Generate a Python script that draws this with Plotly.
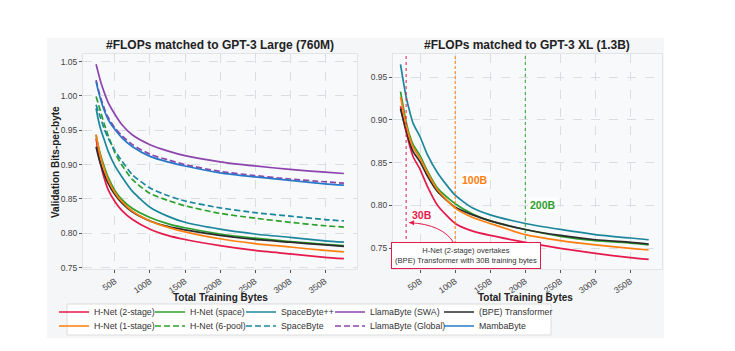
import plotly.graph_objects as go

W, H = 735, 351

# ---------------- data ----------------
x_left = [23, 26, 30, 35, 40, 50, 60, 75, 100, 125, 150, 200, 250, 300, 350, 377]
L_hnet_2stage = [0.938, 0.918, 0.898, 0.879, 0.864, 0.846, 0.833, 0.820, 0.806, 0.797, 0.791, 0.782, 0.775, 0.770, 0.765, 0.763]
L_hnet_1stage = [0.944, 0.927, 0.909, 0.892, 0.878, 0.859, 0.846, 0.832, 0.818, 0.809, 0.802, 0.792, 0.785, 0.780, 0.775, 0.773]
L_hnet_space = [0.943, 0.928, 0.912, 0.896, 0.882, 0.862, 0.849, 0.836, 0.823, 0.814, 0.808, 0.799, 0.793, 0.788, 0.784, 0.782]
L_hnet_6pool = [0.999, 0.989, 0.975, 0.958, 0.943, 0.917, 0.899, 0.878, 0.858, 0.848, 0.840, 0.829, 0.822, 0.816, 0.811, 0.809]
L_spacebytepp = [0.982, 0.966, 0.950, 0.935, 0.920, 0.898, 0.882, 0.861, 0.838, 0.825, 0.816, 0.806, 0.799, 0.794, 0.789, 0.787]
L_spacebyte = [0.987, 0.978, 0.966, 0.951, 0.939, 0.920, 0.905, 0.885, 0.866, 0.855, 0.847, 0.837, 0.830, 0.825, 0.820, 0.818]
L_llama_swa = [1.046, 1.034, 1.019, 1.004, 0.991, 0.973, 0.958, 0.943, 0.929, 0.920, 0.913, 0.904, 0.898, 0.893, 0.889, 0.887]
L_llama_global = [1.023, 1.010, 0.996, 0.981, 0.969, 0.953, 0.942, 0.929, 0.915, 0.907, 0.900, 0.890, 0.884, 0.879, 0.875, 0.873]
L_bpe = [0.926, 0.913, 0.899, 0.885, 0.873, 0.856, 0.844, 0.831, 0.818, 0.810, 0.805, 0.797, 0.791, 0.787, 0.783, 0.781]
L_mambabyte = [1.021, 1.008, 0.993, 0.978, 0.966, 0.951, 0.939, 0.926, 0.912, 0.904, 0.898, 0.888, 0.882, 0.877, 0.872, 0.870]

x_right = [22, 26, 30, 35, 40, 50, 60, 75, 100, 125, 150, 200, 250, 300, 350, 376]
R_hnet_2stage = [0.916, 0.900, 0.886, 0.870, 0.857, 0.842, 0.823, 0.800, 0.779, 0.770, 0.765, 0.757, 0.750, 0.744, 0.739, 0.737]
R_hnet_1stage = [0.927, 0.910, 0.894, 0.879, 0.868, 0.855, 0.839, 0.818, 0.797, 0.786, 0.779, 0.766, 0.759, 0.754, 0.750, 0.748]
R_hnet_space = [0.933, 0.915, 0.898, 0.882, 0.871, 0.858, 0.841, 0.820, 0.802, 0.790, 0.782, 0.772, 0.764, 0.759, 0.756, 0.754]
R_spacebytepp = [0.965, 0.945, 0.927, 0.910, 0.896, 0.880, 0.860, 0.838, 0.812, 0.797, 0.789, 0.779, 0.772, 0.766, 0.762, 0.760]
R_bpe = [0.913, 0.900, 0.888, 0.874, 0.863, 0.851, 0.835, 0.816, 0.798, 0.789, 0.782, 0.772, 0.765, 0.760, 0.757, 0.755]

x_tick_vals = [50, 100, 150, 200, 250, 300, 350]
x_tick_text = ["50B", "100B", "150B", "200B", "250B", "300B", "350B"]
y_left_ticks = [0.75, 0.80, 0.85, 0.90, 0.95, 1.00, 1.05]
y_right_ticks = [0.75, 0.80, 0.85, 0.90, 0.95]

marker_lines = [30, 100, 200]
marker_labels = ["30B", "100B", "200B"]

# ---------------- styles ----------------
RED = "#e6194b"
ORANGE = "#ff7f0e"
GREEN = "#2ca02c"
TEAL = "#1b879c"
PURPLE = "#8e44ad"
BLACK = "#2b2b2b"
BLUE = "#2878c8"
DASH = "6px,3px"
FONT = "Liberation Sans, Arial, sans-serif"

# name, left data, right data, color, dash, legend id, legend width
series = [
    ("H-Net (2-stage)", L_hnet_2stage, R_hnet_2stage, RED, "solid", "legend", 51),
    ("H-Net (space)", L_hnet_space, R_hnet_space, GREEN, "solid", "legend", 46),
    ("SpaceByte++", L_spacebytepp, R_spacebytepp, TEAL, "solid", "legend", 44),
    ("LlamaByte (SWA)", L_llama_swa, None, PURPLE, "solid", "legend", 64),
    ("(BPE) Transformer", L_bpe, R_bpe, BLACK, "solid", "legend", 70),
    ("H-Net (1-stage)", L_hnet_1stage, R_hnet_1stage, ORANGE, "solid", "legend2", 51),
    ("H-Net (6-pool)", L_hnet_6pool, None, GREEN, DASH, "legend2", 46),
    ("SpaceByte", L_spacebyte, None, TEAL, DASH, "legend2", 44),
    ("LlamaByte (Global)", L_llama_global, None, PURPLE, DASH, "legend2", 64),
    ("MambaByte", L_mambabyte, None, BLUE, "solid", "legend2", 70),
]

fig = go.Figure()
LW = 1.7
for name, ly, ry, color, dash, leg, lw_ in series:
    fig.add_trace(go.Scatter(
        x=x_left, y=ly, mode="lines", name=name,
        line=dict(color=color, width=LW, dash=dash, shape="spline", smoothing=0.6),
        legend=leg, legendwidth=lw_, xaxis="x", yaxis="y", showlegend=True,
    ))
for name, ly, ry, color, dash, leg, lw_ in series:
    if ry is None:
        continue
    fig.add_trace(go.Scatter(
        x=x_right, y=ry, mode="lines", name=name,
        line=dict(color=color, width=LW, dash=dash, shape="spline", smoothing=0.6),
        xaxis="x2", yaxis="y2", showlegend=False,
    ))


def px_x(p):
    return p / W


def px_y(p):
    return 1 - p / H


PANEL = "#f5f6f8"
PLOTBG = "#f8f9fb"
GRID = "#dadde2"
TICKFONT = dict(family=FONT, size=8.5, color="#444444")

axis_common = dict(
    showgrid=True, gridcolor=GRID, griddash="dash", gridwidth=0.8,
    zeroline=False, showline=True, linecolor="#e2e4e8", linewidth=1, mirror=True,
    ticks="outside", ticklen=3, tickwidth=1, tickcolor="#555555",
    tickfont=TICKFONT,
)

fig.update_layout(
    width=W, height=H,
    margin=dict(l=0, r=0, t=0, b=0, autoexpand=False),
    paper_bgcolor="white",
    plot_bgcolor=PLOTBG,
    font=dict(family=FONT, color="#333333"),
    xaxis=dict(domain=[px_x(83), px_x(357)], range=[4.3, 395.7], anchor="y",
               tickvals=x_tick_vals, ticktext=x_tick_text, tickangle=-35, **axis_common),
    yaxis=dict(domain=[px_y(269), px_y(54)], range=[0.748, 1.061], anchor="x",
               tickvals=y_left_ticks, tickformat=".2f", **axis_common),
    xaxis2=dict(domain=[px_x(393), px_x(662)], range=[11.3, 395], anchor="y2",
                tickvals=x_tick_vals, ticktext=x_tick_text, tickangle=-35, **axis_common),
    yaxis2=dict(domain=[px_y(269), px_y(54)], range=[0.7258, 0.977], anchor="x2",
                tickvals=y_right_ticks, tickformat=".2f", **axis_common),
    legend=dict(orientation="h", x=px_x(54), xanchor="left", y=px_y(312), yanchor="middle",
                bgcolor="rgba(0,0,0,0)", borderwidth=0, font=dict(family=FONT, size=8.8, color="#333333"),
                itemwidth=30, tracegroupgap=0),
    legend2=dict(orientation="h", x=px_x(54), xanchor="left", y=px_y(326), yanchor="middle",
                 bgcolor="rgba(0,0,0,0)", borderwidth=0, font=dict(family=FONT, size=8.8, color="#333333"),
                 itemwidth=30, tracegroupgap=0),
    showlegend=True,
)

shapes = [
    dict(type="rect", xref="paper", yref="paper", x0=px_x(47), x1=px_x(664), y0=px_y(338), y1=px_y(38),
         fillcolor=PANEL, line=dict(width=0), layer="below"),
    dict(type="rect", xref="x domain", yref="y domain", x0=0, x1=1, y0=0, y1=1,
         fillcolor=PLOTBG, line=dict(width=0), layer="below"),
    dict(type="rect", xref="x2 domain", yref="y2 domain", x0=0, x1=1, y0=0, y1=1,
         fillcolor=PLOTBG, line=dict(width=0), layer="below"),
    dict(type="rect", xref="paper", yref="paper", x0=px_x(67), x1=px_x(551), y0=px_y(335), y1=px_y(304),
         fillcolor="white", line=dict(color="#dcdcdc", width=1), layer="below"),
]
marker_colors = [RED, ORANGE, GREEN]
marker_dash = ["dot", "3px,2px", "dot"]
for xv, c, d in zip(marker_lines, marker_colors, marker_dash):
    shapes.append(dict(type="line", xref="x2", yref="y2 domain", x0=xv, x1=xv, y0=0, y1=1,
                       line=dict(color=c, width=1, dash=d), layer="above"))
shapes.append(dict(type="path", xref="x2", yref="y2",
                   path="M 98.6,0.7555 Q 82.9,0.778 34.3,0.780",
                   line=dict(color=RED, width=1), layer="above"))
fig.update_layout(shapes=shapes)

ann = []
ann.append(dict(text="<b>#FLOPs matched to GPT-3 Large (760M)</b>", xref="paper", yref="paper",
                x=px_x(220), y=px_y(45), xanchor="center", yanchor="middle", showarrow=False,
                font=dict(family=FONT, size=12, color="#222222")))
ann.append(dict(text="<b>#FLOPs matched to GPT-3 XL (1.3B)</b>", xref="paper", yref="paper",
                x=px_x(527), y=px_y(45), xanchor="center", yanchor="middle", showarrow=False,
                font=dict(family=FONT, size=12, color="#222222")))
for cx in (220, 525):
    ann.append(dict(text="<b>Total Training Bytes</b>", xref="paper", yref="paper",
                    x=px_x(cx), y=px_y(297), xanchor="center", yanchor="middle", showarrow=False,
                    font=dict(family=FONT, size=10, color="#222222")))
ann.append(dict(text="<b>Validation Bits-per-byte</b>", xref="paper", yref="paper",
                x=px_x(55), y=px_y(162), xanchor="center", yanchor="middle", showarrow=False,
                textangle=-90, font=dict(family=FONT, size=10, color="#222222")))
label_pos = [(35, 0.789), (106.5, 0.830), (204, 0.801)]
for (lx, ly), txt, c in zip(label_pos, marker_labels, marker_colors):
    ann.append(dict(text=f"<b>{txt}</b>", xref="x2", yref="y2", x=lx, y=ly, xanchor="left",
                    yanchor="middle", showarrow=False, bgcolor="rgba(255,255,255,0.85)", borderpad=1,
                    font=dict(family=FONT, size=10.5, color=c)))
ann.append(dict(text="H-Net (2-stage) overtakes<br>(BPE) Transformer with 30B training bytes",
                xref="x2", yref="y2", x=115.4, y=0.741, xanchor="center", yanchor="middle",
                showarrow=False, bgcolor="white", bordercolor=RED, borderwidth=1, borderpad=3,
                font=dict(family=FONT, size=7.6, color="#333333")))
ann.append(dict(text="", xref="x2", yref="y2", x=34.3, y=0.780, axref="x2", ayref="y2",
                ax=40.1, ay=0.77976, showarrow=True, arrowhead=2, arrowsize=1, arrowwidth=1,
                arrowcolor=RED, standoff=0))
fig.update_layout(annotations=ann)

fig.write_html("out.html")
